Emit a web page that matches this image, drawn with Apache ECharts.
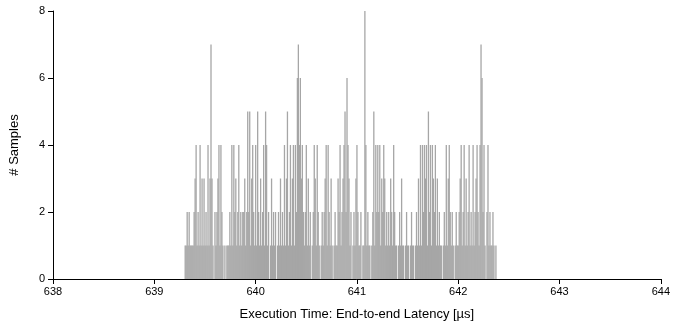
<!DOCTYPE html>
<html>
<head>
<meta charset="utf-8">
<script src="https://cdn.jsdelivr.net/npm/echarts@6/dist/echarts.min.js"></script>
<style>
  html, body { margin: 0; padding: 0; background: #fff; }
  #main { width: 673px; height: 328px; }
</style>
</head>
<body>
<div id="main"></div>
<script>
// histogram bins: first bin start and width in µs
const binStart = 639.30;
const binWidth = 0.0098;
// sample counts per bin
const counts = [
  1,1,2,1,2,1,1,1,1,2,
  3,4,1,2,1,4,1,3,1,3,
  1,2,1,4,1,3,7,3,1,0,
  2,1,2,3,4,1,4,2,1,0,
  1,0,1,1,1,2,1,4,1,4,
  2,3,1,2,4,1,2,1,2,2,
  3,1,2,5,2,5,1,3,4,2,
  1,4,1,5,2,1,3,1,2,4,
  1,5,4,1,2,0,1,3,1,2,
  1,2,0,1,2,1,3,1,2,1,
  4,1,3,5,1,2,4,1,3,4,
  1,4,2,6,7,4,6,3,4,2,
  1,2,4,1,3,1,2,0,1,2,
  4,3,1,4,2,1,0,1,2,1,
  2,3,4,1,4,2,1,3,1,0,
  1,2,1,1,3,2,4,1,2,3,
  4,5,2,6,4,3,1,2,0,1,
  2,1,3,4,2,1,1,2,0,1,
  1,8,4,1,2,1,1,0,1,2,
  5,1,4,2,4,2,4,1,3,2,
  4,3,1,2,1,2,1,3,2,1,
  4,2,1,1,0,1,2,1,3,1,
  1,0,1,2,1,1,0,1,2,1,
  1,0,1,2,1,3,1,4,1,4,
  2,4,3,4,1,5,2,4,1,4,
  3,2,4,1,3,1,2,1,1,0,
  1,2,1,4,1,3,4,2,1,2,
  1,0,1,2,1,1,2,3,4,1,
  2,4,1,3,1,2,4,1,2,1,
  4,1,2,3,4,2,1,4,7,6,
  2,4,1,0,2,4,1,2,1,1,
  2,1,0,1
];
const xTicks = [638, 639, 640, 641, 642, 643, 644];
const yTicks = [0, 2, 4, 6, 8];

const barData = counts.map((c, i) => [binStart + (i + 0.5) * binWidth, c]);

const font = 'Liberation Sans, Arial, sans-serif';
let myChart = echarts.init(document.getElementById('main'));
myChart.setOption({
  animation: false,
  grid: { left: 50, right: 10, top: 11, bottom: 49 },
  xAxis: {
    type: 'value',
    min: xTicks[0],
    max: xTicks[xTicks.length - 1],
    interval: 1,
    name: 'Execution Time: End-to-end Latency [µs]',
    nameLocation: 'middle',
    nameGap: 29,
    nameTextStyle: { fontFamily: font, fontSize: 13, color: '#000' },
    axisLine: { lineStyle: { color: '#000', width: 1 } },
    axisTick: { length: 5, lineStyle: { color: '#000' } },
    axisLabel: { fontFamily: font, fontSize: 11, color: '#000', margin: 7 },
    splitLine: { show: false }
  },
  yAxis: {
    type: 'value',
    min: yTicks[0],
    max: yTicks[yTicks.length - 1],
    interval: 2,
    name: '# Samples',
    nameLocation: 'middle',
    nameGap: 32,
    nameTextStyle: { fontFamily: font, fontSize: 13, color: '#000' },
    axisLine: { show: true, lineStyle: { color: '#000', width: 1 } },
    axisTick: { show: true, length: 5, lineStyle: { color: '#000' } },
    axisLabel: { fontFamily: font, fontSize: 11, color: '#000', margin: 8 },
    splitLine: { show: false }
  },
  series: [{
    type: 'bar',
    data: barData,
    barWidth: 1.3,
    itemStyle: { color: '#a6a6a6' }
  }]
});
</script>
</body>
</html>
